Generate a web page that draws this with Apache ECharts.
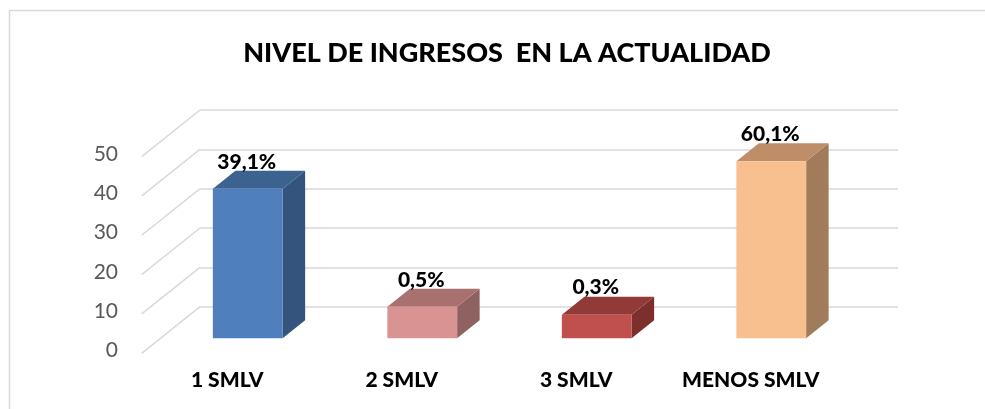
<!DOCTYPE html>
<html>
<head>
<meta charset="utf-8">
<title>Nivel de ingresos</title>
<script src="https://cdn.jsdelivr.net/npm/echarts@6/dist/echarts.min.js"></script>
<style>
  html, body { margin: 0; padding: 0; background: #fff; }
  #chart { width: 985px; height: 409px; }
</style>
</head>
<body>
<div id="chart"></div>
<script>
// Données du graphique
const categories = ["1 SMLV", "2 SMLV", "3 SMLV", "MENOS SMLV"];
const valeurs = [38, 8, 6, 45];
const etiquettes = ["39,1%", "0,5%", "0,3%", "60,1%"];
const graduations = [0, 10, 20, 30, 40, 50];

// Couleurs (face, dessus, côté)
const couleurs = [
    ["#4f7fbc", "#3c628f", "#34547e"],
    ["#d99392", "#a8706f", "#8e6261"],
    ["#c0504d", "#923a38", "#7d2f2d"],
    ["#f9c08f", "#bf8e69", "#a07c5a"]
];

// Décalages 3D (mur du fond -> face avant des barres, profondeur des barres)
const AVANT_DX = -39.5, AVANT_DY = 31.6;
const PROF_DX = 22.5, PROF_DY = -18;
const MUR_DX = -58.3, MUR_DY = 46.6;
const FONT = "Lato";

// === Barres 3D ===
function renderBarre(params, api) {
    const i = api.value(0);
    const haut = api.coord([i, api.value(1)]);
    const bas = api.coord([i, 0]);
    const w = api.size([1, 0])[0] * 0.4;
    const x0 = haut[0] + AVANT_DX - w / 2;
    const x1 = x0 + w;
    const yT = haut[1] + AVANT_DY;
    const yB = bas[1] + AVANT_DY;
    const c = couleurs[i];
    return {
        type: "group",
        children: [
            {
                type: "polygon",
                shape: { points: [[x1, yT], [x1 + PROF_DX, yT + PROF_DY], [x1 + PROF_DX, yB + PROF_DY], [x1, yB]] },
                style: { fill: c[2] }
            },
            {
                type: "polygon",
                shape: { points: [[x0, yT], [x1, yT], [x1 + PROF_DX, yT + PROF_DY], [x0 + PROF_DX, yT + PROF_DY]] },
                style: { fill: c[1] }
            },
            {
                type: "rect",
                shape: { x: x0, y: yT, width: w, height: yB - yT },
                style: { fill: c[0] }
            },
            {
                type: "text",
                x: (x0 + x1) / 2 - 1,
                y: yT + PROF_DY - 9,
                style: {
                    text: etiquettes[i],
                    fill: "#000",
                    font: "900 21px " + FONT,
                    align: "center",
                    verticalAlign: "middle"
                }
            }
        ]
    };
}

// === Diagonales du mur latéral ===
function renderDiagonale(params, api) {
    const p = api.coord([0, api.value(1)]);
    const x = params.coordSys.x;
    return {
        type: "line",
        shape: { x1: x + MUR_DX, y1: p[1] + MUR_DY, x2: x, y2: p[1] },
        style: { stroke: "#d9d9d9", lineWidth: 1.5 }
    };
}

const chart = echarts.init(document.getElementById("chart"));
const option = {
    backgroundColor: "#fff",
    animation: false,
    title: {
        text: "NIVEL DE INGRESOS  EN LA ACTUALIDAD",
        left: 502,
        textAlign: "center",
        top: 35,
        textStyle: { fontFamily: FONT, fontSize: 27, fontWeight: 900, color: "#000" }
    },
    graphic: [
        { type: "line", shape: { x1: 9.5, y1: 10.5, x2: 985, y2: 10.5 }, style: { stroke: "#d9d9d9", lineWidth: 1.5 } },
        { type: "line", shape: { x1: 9.5, y1: 10.5, x2: 9.5, y2: 409 }, style: { stroke: "#d9d9d9", lineWidth: 1.5 } }
    ],
    grid: [
        // mur du fond
        { left: 200, top: 110, width: 698, bottom: 102.3 },
        // plan avant (étiquettes des axes)
        { left: 140, top: 154, width: 698, bottom: 58.3 }
    ],
    xAxis: [
        {
            gridIndex: 0, type: "category", data: categories,
            axisLine: { show: false }, axisTick: { show: false }, axisLabel: { show: false }
        },
        {
            gridIndex: 1, type: "category", data: categories,
            axisLine: { show: false }, axisTick: { show: false },
            axisLabel: { interval: 0, margin: 19, color: "#000", fontFamily: FONT, fontSize: 21, fontWeight: 900 }
        }
    ],
    yAxis: [
        {
            gridIndex: 0, type: "value", min: 0, max: 50, interval: 10,
            axisLabel: { show: false },
            splitLine: { lineStyle: { color: "#d9d9d9", width: 1.5 } }
        },
        {
            gridIndex: 1, type: "value", min: 0, max: 50, interval: 10,
            splitLine: { show: false },
            axisLabel: { margin: 22, color: "#595959", fontFamily: FONT, fontSize: 21 }
        }
    ],
    series: [
        {
            type: "custom",
            xAxisIndex: 0, yAxisIndex: 0,
            renderItem: renderDiagonale,
            data: graduations.map(v => [0, v]),
            silent: true,
            z: 1
        },
        {
            type: "custom",
            xAxisIndex: 0, yAxisIndex: 0,
            renderItem: renderBarre,
            data: valeurs.map((v, i) => [i, v]),
            z: 2
        }
    ]
};
chart.setOption(option);
</script>
</body>
</html>
